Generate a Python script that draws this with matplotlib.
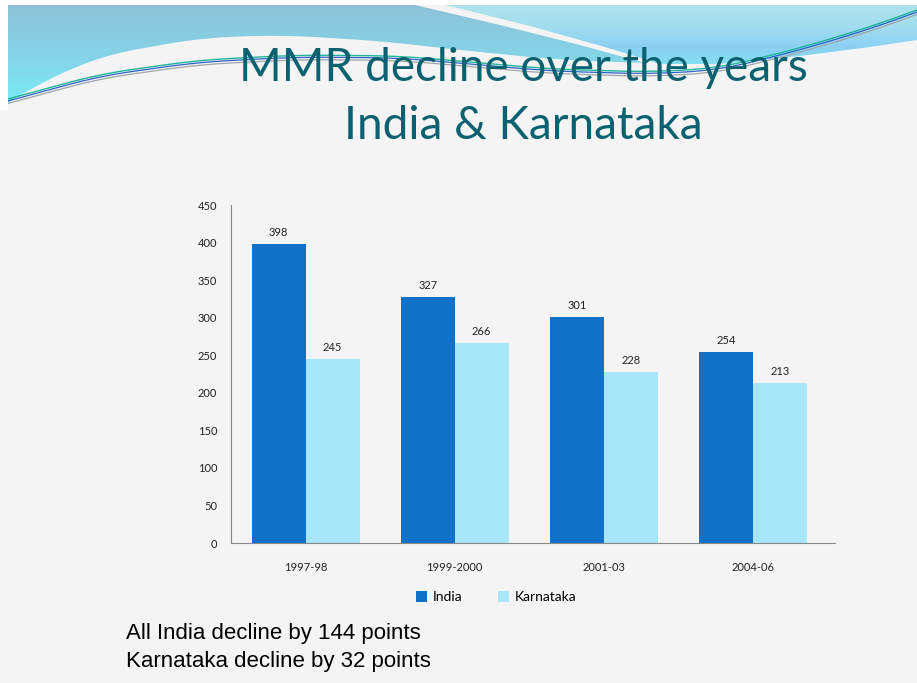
import matplotlib
matplotlib.use("Agg")
import matplotlib.pyplot as plt
import numpy as np
from matplotlib.patches import Polygon, Rectangle
from matplotlib.colors import LinearSegmentedColormap

periods = ["1997-98", "1999-2000", "2001-03", "2004-06"]
india = [398, 327, 301, 254]
karnataka = [245, 266, 228, 213]
yticks = [0, 50, 100, 150, 200, 250, 300, 350, 400, 450]
title_lines = ["MMR decline over the years", "India & Karnataka"]
notes = ["All India decline by 144 points", "Karnataka decline by 32 points"]

W, H = 917, 683
fig = plt.figure(figsize=(W / 100, H / 100), dpi=100)
fig.patch.set_facecolor("#F4F4F4")

# decorative background layer (figure pixel coords)
bg = fig.add_axes([0, 0, 1, 1], zorder=0)
bg.set_xlim(0, W)
bg.set_ylim(H, 0)
bg.axis("off")


def smooth(pts, n=80):
    pts = np.array(pts, float)
    d = np.r_[0, np.cumsum(np.hypot(*np.diff(pts, axis=0).T))]
    tt = np.linspace(0, d[-1], n)
    xs = np.interp(tt, d, pts[:, 0])
    ys = np.interp(tt, d, pts[:, 1])
    k = 9
    ker = np.ones(k) / k
    xs2 = np.convolve(np.pad(xs, k // 2, mode="edge"), ker, mode="valid")
    ys2 = np.convolve(np.pad(ys, k // 2, mode="edge"), ker, mode="valid")
    xs2[0], ys2[0], xs2[-1], ys2[-1] = xs[0], ys[0], xs[-1], ys[-1]
    return np.column_stack([xs2, ys2])


def grad_fill(poly, colors, y0, y1):
    patch = Polygon(poly, closed=True, facecolor="none", edgecolor="none")
    bg.add_patch(patch)
    cmap = LinearSegmentedColormap.from_list("g", colors)
    grad = np.linspace(0, 1, 256).reshape(-1, 1)
    im = bg.imshow(grad, cmap=cmap, extent=[0, W, y1, y0], aspect="auto",
                   origin="upper", interpolation="bilinear")
    im.set_clip_path(patch)


# left blue wave
streak_lo = smooth([(415, 5), (500, 25), (580, 45), (645, 63)])
lower_L = smooth([(645, 63), (560, 60), (460, 50), (380, 41), (280, 35), (200, 38),
                  (100, 56), (30, 88), (8, 103)])
polyL = np.vstack([[[8, 5]], streak_lo, lower_L])
grad_fill(polyL, ["#8DC2D8", "#86D3E6", "#78ECF6"], 5, 105)

# right light-cyan wave
streak_hi = smooth([(445, 5), (530, 26), (605, 47), (660, 64)])
lower_R = smooth([(660, 64), (720, 64), (800, 56), (870, 47), (917, 40)])
polyR = np.vstack([streak_hi, lower_R, [[917, 5]]])
grad_fill(polyR, ["#AEE4EC", "#A2DDEF", "#8CD0F2", "#80E2F0"], 5, 68)

# thin lines
for dy, col, lw in [(0, "#1FB59A", 1.0), (2, "#2E62C8", 0.9), (4.5, "#A0A6AA", 0.9)]:
    c = smooth([(8, 99 + dy), (100, 74 + dy), (200, 60 + dy), (300, 55 + dy), (400, 56 + dy),
                (470, 62 + dy), (550, 69 + dy), (650, 72 + dy), (720, 68 + dy),
                (800, 48 + dy), (870, 27 + dy), (917, 10 + dy)], n=120)
    bg.plot(c[:, 0], c[:, 1], color=col, lw=lw)
bg.add_patch(Rectangle((0, 0), W, 5, facecolor="white", edgecolor="none", zorder=5))
bg.add_patch(Rectangle((0, 0), 8, 110, facecolor="white", edgecolor="none", zorder=5))

# title
fig.text(523 / W, 1 - 68 / H, title_lines[0], ha="center", va="center",
         fontsize=33, color="#0B6170", family="Lato")
fig.text(523 / W, 1 - 126 / H, title_lines[1], ha="center", va="center",
         fontsize=33, color="#0B6170", family="Lato")

# chart
ax = fig.add_axes([231 / W, 1 - 543 / H, (835 - 231) / W, (543 - 205) / H], zorder=2)
ax.set_facecolor("none")
x = np.arange(len(periods))
bw = 0.362
b1 = ax.bar(x - bw / 2, india, bw, color="#1170C8", label="India")
b2 = ax.bar(x + bw / 2, karnataka, bw, color="#A8E6FA", label="Karnataka")
for bars, vals in [(b1, india), (b2, karnataka)]:
    for r, v in zip(bars, vals):
        ax.text(r.get_x() + r.get_width() / 2, v + 8, str(v), ha="center", va="bottom",
                fontsize=8, family="Lato", color="#222222")
ax.set_xlim(-0.5, len(periods) - 0.45)
ax.set_ylim(0, 450)
ax.set_yticks(yticks)
ax.set_yticklabels([str(t) for t in yticks], fontsize=8, family="Lato", color="#222222")
ax.set_xticks(x)
ax.set_xticklabels(periods, fontsize=8, family="Lato", color="#222222")
ax.tick_params(axis="y", length=0, pad=10)
ax.tick_params(axis="x", length=0, pad=14)
for s in ["top", "right"]:
    ax.spines[s].set_visible(False)
ax.spines["left"].set_color("#888888")
ax.spines["bottom"].set_color("#888888")
ax.spines["left"].set_linewidth(0.8)
ax.spines["bottom"].set_linewidth(0.8)

leg = fig.legend(handles=[b1, b2], loc="center", bbox_to_anchor=(496 / W, 1 - 597 / H), ncol=2,
                 frameon=False, prop={"family": "Lato", "size": 10}, handlelength=0.8,
                 handleheight=0.8, columnspacing=2.6, handletextpad=0.4)

fig.text(126 / W, 1 - 634 / H, notes[0], ha="left", va="center", fontsize=16,
         family="Liberation Sans", color="black")
fig.text(126 / W, 1 - 661 / H, notes[1], ha="left", va="center", fontsize=16,
         family="Liberation Sans", color="black")

fig.savefig("out.png", dpi=100, facecolor=fig.get_facecolor())
